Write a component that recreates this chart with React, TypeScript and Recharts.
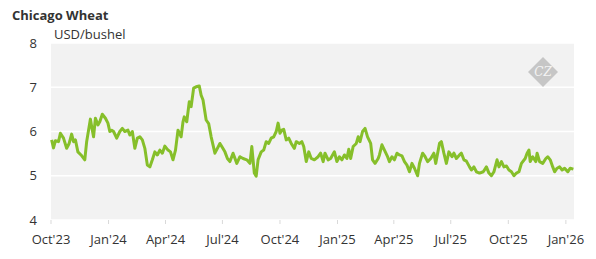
import { LineChart, Line, XAxis, YAxis, CartesianGrid } from "recharts";

// roughly every 3-5 days
const dates2023 = [
  "2023-10-02", "2023-10-05", "2023-10-08", "2023-10-13", "2023-10-16", "2023-10-21",
  "2023-10-26", "2023-10-30", "2023-11-03", "2023-11-06", "2023-11-09", "2023-11-13",
  "2023-11-18", "2023-11-24", "2023-11-27", "2023-12-03", "2023-12-05", "2023-12-08",
  "2023-12-11", "2023-12-15", "2023-12-18", "2023-12-22", "2023-12-27", "2023-12-31",
];
const prices2023 = [
  5.81, 5.63, 5.79, 5.77, 5.96, 5.85,
  5.62, 5.73, 5.94, 5.77, 5.81, 5.54,
  5.47, 5.36, 5.77, 6.28, 6.11, 5.88,
  6.3, 6.15, 6.22, 6.39, 6.3, 6.19,
];

const dates2024 = [
  "2024-01-03", "2024-01-06", "2024-01-09", "2024-01-14", "2024-01-19", "2024-01-23",
  "2024-01-27", "2024-02-01", "2024-02-04", "2024-02-08", "2024-02-12", "2024-02-16",
  "2024-02-20", "2024-02-24", "2024-02-28", "2024-03-03", "2024-03-07", "2024-03-11",
  "2024-03-15", "2024-03-19", "2024-03-23", "2024-03-27", "2024-03-31", "2024-04-05",
  "2024-04-09", "2024-04-13", "2024-04-17", "2024-04-21", "2024-04-26", "2024-04-29",
  "2024-05-01", "2024-05-05", "2024-05-09", "2024-05-12", "2024-05-16", "2024-05-20",
  "2024-05-25", "2024-05-28", "2024-05-31", "2024-06-05", "2024-06-09", "2024-06-13",
  "2024-06-19", "2024-06-23", "2024-06-27", "2024-06-30", "2024-07-05", "2024-07-09",
  "2024-07-13", "2024-07-18", "2024-07-24", "2024-07-29", "2024-08-03", "2024-08-09",
  "2024-08-14", "2024-08-17", "2024-08-21", "2024-08-24", "2024-08-27", "2024-09-01",
  "2024-09-05", "2024-09-09", "2024-09-13", "2024-09-17", "2024-09-21", "2024-09-25",
  "2024-09-28", "2024-10-01", "2024-10-04", "2024-10-07", "2024-10-11", "2024-10-15",
  "2024-10-19", "2024-10-24", "2024-10-27", "2024-11-01", "2024-11-05", "2024-11-08",
  "2024-11-12", "2024-11-16", "2024-11-20", "2024-11-25", "2024-12-01", "2024-12-05",
  "2024-12-09", "2024-12-12", "2024-12-17", "2024-12-21", "2024-12-27", "2024-12-31",
];
const prices2024 = [
  6.0, 6.03, 6.0, 5.85, 6.0, 6.07,
  6.0, 6.03, 5.92, 6.0, 5.62, 5.85,
  5.88, 5.81, 5.62, 5.24, 5.2, 5.36,
  5.54, 5.47, 5.58, 5.51, 5.67, 5.58,
  5.54, 5.36, 5.58, 6.03, 5.88, 6.22,
  6.33, 6.22, 6.67, 6.56, 6.98, 7.01,
  7.03, 6.82, 6.71, 6.26, 6.18, 5.88,
  5.51, 5.62, 5.73, 5.66, 5.54, 5.39,
  5.32, 5.51, 5.28, 5.43, 5.39, 5.36,
  5.28, 5.66, 5.06, 4.99, 5.36, 5.54,
  5.58, 5.77, 5.73, 5.85, 5.88, 6.0,
  6.19, 5.96, 6.03, 6.05, 5.81, 5.85,
  5.73, 5.62, 5.77, 5.73, 5.77, 5.66,
  5.32, 5.54, 5.39, 5.36, 5.43, 5.51,
  5.32, 5.51, 5.36, 5.39, 5.54, 5.32,
];

const dates2025 = [
  "2025-01-04", "2025-01-08", "2025-01-12", "2025-01-16", "2025-01-19", "2025-01-22",
  "2025-01-26", "2025-01-31", "2025-02-03", "2025-02-06", "2025-02-10", "2025-02-14",
  "2025-02-18", "2025-02-23", "2025-02-26", "2025-03-02", "2025-03-07", "2025-03-09",
  "2025-03-13", "2025-03-17", "2025-03-22", "2025-03-25", "2025-03-29", "2025-04-02",
  "2025-04-06", "2025-04-10", "2025-04-14", "2025-04-18", "2025-04-22", "2025-04-26",
  "2025-04-30", "2025-05-04", "2025-05-09", "2025-05-12", "2025-05-17", "2025-05-21",
  "2025-05-25", "2025-05-30", "2025-06-04", "2025-06-07", "2025-06-13", "2025-06-16",
  "2025-06-20", "2025-06-24", "2025-06-28", "2025-07-03", "2025-07-06", "2025-07-10",
  "2025-07-15", "2025-07-18", "2025-07-22", "2025-07-26", "2025-07-31", "2025-08-03",
  "2025-08-07", "2025-08-11", "2025-08-16", "2025-08-22", "2025-08-27", "2025-08-31",
  "2025-09-04", "2025-09-08", "2025-09-13", "2025-09-16", "2025-09-20", "2025-09-24",
  "2025-09-28", "2025-10-02", "2025-10-06", "2025-10-10", "2025-10-14", "2025-10-18",
  "2025-10-22", "2025-10-28", "2025-10-31", "2025-11-03", "2025-11-05", "2025-11-09",
  "2025-11-14", "2025-11-16", "2025-11-20", "2025-11-25", "2025-11-30", "2025-12-03",
  "2025-12-07", "2025-12-11", "2025-12-14", "2025-12-18", "2025-12-22", "2025-12-26",
  "2025-12-30",
];
const prices2025 = [
  5.43, 5.36, 5.47, 5.39, 5.6, 5.39,
  5.66, 5.73, 5.88, 5.77, 6.0, 6.07,
  5.88, 5.73, 5.36, 5.28, 5.39, 5.47,
  5.7, 5.58, 5.43, 5.32, 5.43, 5.36,
  5.51, 5.47, 5.45, 5.32, 5.24, 5.09,
  5.28, 5.17, 5.0, 5.28, 5.51, 5.43,
  5.32, 5.39, 5.51, 5.28, 5.73, 5.77,
  5.51, 5.28, 5.54, 5.43, 5.51, 5.39,
  5.47, 5.51, 5.36, 5.33, 5.2, 5.13,
  5.2, 5.09, 5.06, 5.09, 5.2, 5.06,
  5.0, 5.09, 5.36, 5.2, 5.32, 5.2,
  5.22, 5.13, 5.09, 5.0, 5.06, 5.09,
  5.28, 5.39, 5.51, 5.58, 5.32, 5.43,
  5.32, 5.51, 5.32, 5.28, 5.39, 5.43,
  5.36, 5.2, 5.09, 5.17, 5.2, 5.13,
  5.17,
];

const dates2026 = ["2026-01-04", "2026-01-08", "2026-01-13"];
const prices2026 = [5.09, 5.17, 5.15];

const tickDates = [
  "2023-10-01", "2024-01-01", "2024-04-01", "2024-07-01", "2024-10-01",
  "2025-01-01", "2025-04-01", "2025-07-01", "2025-10-01", "2026-01-01",
];
const tickLabels = [
  "Oct'23", "Jan'24", "Apr'24", "Jul'24", "Oct'24",
  "Jan'25", "Apr'25", "Jul'25", "Oct'25", "Jan'26",
];
const yTicks = [4, 5, 6, 7, 8];

const toTime = (d: string) => new Date(d + "T00:00:00Z").getTime();

const allDates = [...dates2023, ...dates2024, ...dates2025, ...dates2026];
const allPrices = [...prices2023, ...prices2024, ...prices2025, ...prices2026];
const data = allDates.map((d, i) => ({ t: toTime(d), price: allPrices[i] }));

const xTicks = tickDates.map(toTime);
const labelFor = (t: number) => tickLabels[xTicks.indexOf(t)] ?? "";

const FONT = "'Open Sans', sans-serif";

export default function App() {
  return (
    <div
      style={{
        position: "absolute",
        left: 0,
        top: 0,
        width: 596,
        height: 259,
        background: "#fff",
        fontFamily: FONT,
      }}
    >
      <div
        style={{
          position: "absolute",
          left: 12,
          top: 9,
          fontSize: 13,
          lineHeight: "13px",
          fontWeight: 700,
          color: "#333",
        }}
      >
        Chicago Wheat
      </div>
      <LineChart
        width={596}
        height={259}
        data={data}
        margin={{ top: 43, right: 22, left: 0, bottom: 0 }}
      >
        <CartesianGrid
          vertical={false}
          stroke="#ffffff"
          strokeWidth={1.5}
          fill="#f2f2f2"
        />
        <XAxis
          dataKey="t"
          type="number"
          scale="time"
          domain={[toTime("2023-10-01"), toTime("2026-01-14")]}
          ticks={xTicks}
          tickFormatter={labelFor}
          height={39}
          tickSize={4}
          tickMargin={11}
          axisLine={false}
          tickLine={{ stroke: "#d9d9d9" }}
          tick={{ fill: "#333", fontSize: 13, fontFamily: FONT }}
          interval={0}
        />
        <YAxis
          domain={[4, 8]}
          ticks={yTicks}
          width={51}
          axisLine={false}
          tickLine={false}
          tickSize={0}
          tickMargin={14}
          tick={{ fill: "#333", fontSize: 13, fontFamily: FONT }}
          interval={0}
        />
        <Line
          type="linear"
          dataKey="price"
          stroke="#86bf2a"
          strokeWidth={3}
          strokeLinejoin="round"
          dot={false}
          isAnimationActive={false}
        />
      </LineChart>
      <div
        style={{
          position: "absolute",
          left: 54,
          top: 28,
          fontSize: 13,
          lineHeight: "13px",
          color: "#333",
        }}
      >
        USD/bushel
      </div>
      <svg
        width={32}
        height={32}
        style={{ position: "absolute", left: 527, top: 56 }}
      >
        <polygon points="16,1 31,16 16,31 1,16" fill="#c6c6c6" />
        <text
          x={16}
          y={20}
          textAnchor="middle"
          fontSize={12}
          fontStyle="italic"
          fontFamily="'DejaVu Serif', serif"
          fill="#f4f4f4"
        >
          CZ
        </text>
      </svg>
    </div>
  );
}
